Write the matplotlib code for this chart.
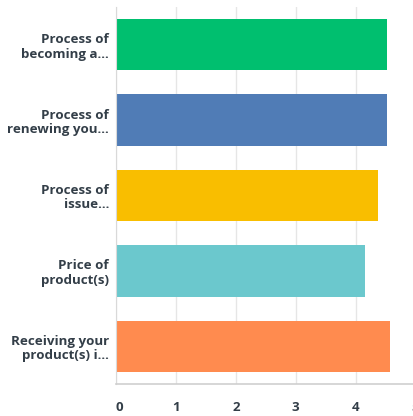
import matplotlib
matplotlib.use("Agg")
import matplotlib.pyplot as plt

# survey answers, average rating per question (top to bottom)
questions = ["Process of\nbecoming a...", "Process of\nrenewing you...", "Process of\nissue...",
             "Price of\nproduct(s)", "Receiving your\nproduct(s) i..."]
averages = [4.52, 4.52, 4.38, 4.15, 4.58]
bar_colors = ["#00BF6F", "#507CB6", "#F9BE00", "#6BC8CD", "#FF8B4F"]
x_ticks = [0, 1, 2, 3, 4, 5]

plt.rcParams['font.family'] = ['Open Sans', 'DejaVu Sans']

fig = plt.figure(figsize=(4.14, 4.16), dpi=100)
ax = fig.add_axes([116 / 414, 32 / 416, 299.5 / 414, 377 / 416])

pos = list(range(len(questions)))
ax.barh(pos, averages, height=0.68, color=bar_colors, zorder=2)

ax.set_xlim(0, 5)
ax.set_ylim(len(questions) - 0.5, -0.5)
ax.set_yticks(pos)
ax.set_yticklabels(questions, fontsize=9.6, fontweight='bold', color='#333e48',
                   linespacing=1.15)
ax.set_xticks(x_ticks)
ax.set_xticklabels([str(t) for t in x_ticks], fontsize=9.5, fontweight='bold', color='#333e48')
xlabels = ax.get_xticklabels()
for lbl in xlabels:
    lbl.set_clip_on(False)
# first label sits just right of the axis line
xlabels[0].set_horizontalalignment('left')

ax.tick_params(axis='y', length=0, pad=5)
ax.tick_params(axis='x', length=0, pad=12)
ax.grid(axis='x', color='#e6e6e6', linewidth=1, zorder=0)

for side in ['top', 'right']:
    ax.spines[side].set_visible(False)
ax.spines['left'].set_color('#d9d9d9')
ax.spines['bottom'].set_color('#cfcfcf')
ax.spines['bottom'].set_linewidth(1.2)

fig.savefig("out.png", dpi=100)
